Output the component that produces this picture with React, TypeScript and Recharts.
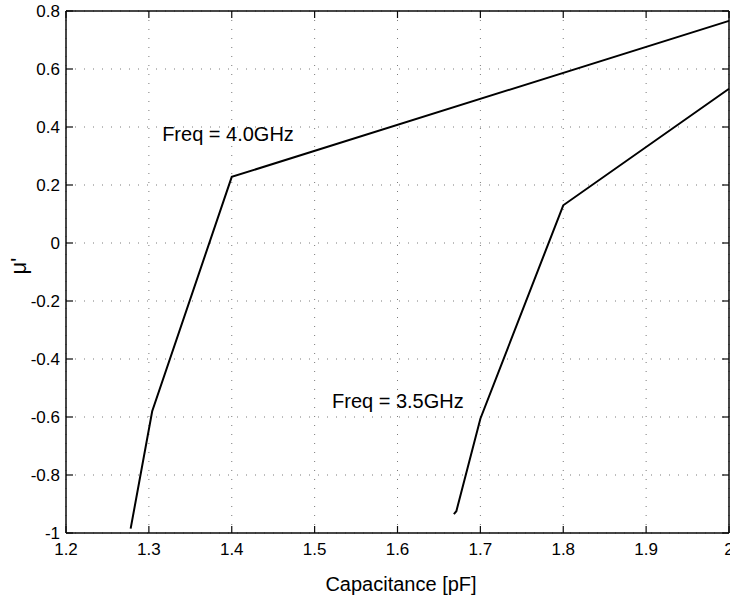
import { LineChart, Line, XAxis, YAxis, CartesianGrid, ReferenceDot, ReferenceLine } from 'recharts'

const FONT = '"Liberation Sans", Arial, Helvetica, sans-serif'
const INK = '#0a0a0a'

// capacitance [pF] vs mu'
const freq40 = [
  { x: 1.278, y: -0.985 },
  { x: 1.304, y: -0.58 },
  { x: 1.4, y: 0.228 },
  { x: 2.0, y: 0.766 },
]

const freq35 = [
  { x: 1.668, y: -0.935 },
  { x: 1.671, y: -0.925 },
  { x: 1.7, y: -0.606 },
  { x: 1.8, y: 0.13 },
  { x: 2.0, y: 0.532 },
]

const xTicks = [1.2, 1.3, 1.4, 1.5, 1.6, 1.7, 1.8, 1.9, 2.0]
const yTicks = [-1, -0.8, -0.6, -0.4, -0.2, 0, 0.2, 0.4, 0.6, 0.8]

const labels = [
  { x: 1.316, y: 0.351, text: 'Freq = 4.0GHz' },
  { x: 1.521, y: -0.57, text: 'Freq = 3.5GHz' },
]

const TICK_LEN = 7
const Y_MARGIN = 6
const X_MARGIN = 10
const FRAME_W = 1.5
const TICK_W = 1.2

function fmt(v: number): string {
  return String(Math.round(v * 10) / 10)
}

// tick label + inward tick mark on the left axis
function LeftTick(props: any) {
  const { x, y, payload } = props
  return (
    <g>
      <path d={`M${x + Y_MARGIN},${y}h${TICK_LEN}`} stroke={INK} strokeWidth={TICK_W} fill="none" />
      <text x={x} y={y} dy="0.36em" textAnchor="end" fontSize={17} fontFamily={FONT} fill="#000">
        {fmt(payload.value)}
      </text>
    </g>
  )
}

function BottomTick(props: any) {
  const { x, y, payload } = props
  return (
    <g>
      <path d={`M${x},${y - X_MARGIN}v${-TICK_LEN}`} stroke={INK} strokeWidth={TICK_W} fill="none" />
      <text x={x} y={y} dy={12} textAnchor="middle" fontSize={17} fontFamily={FONT} fill="#000">
        {fmt(payload.value)}
      </text>
    </g>
  )
}

export default function App() {
  return (
    <div style={{ position: 'absolute', left: 0, top: 0, width: 730, height: 598, background: '#fff' }}>
      <LineChart width={730} height={598} margin={{ top: 11, right: 1, bottom: 0, left: 0 }}>
        <CartesianGrid stroke="#7a7a7a" strokeDasharray="1 8" />
        <XAxis
          type="number"
          dataKey="x"
          domain={[1.2, 2]}
          ticks={xTicks}
          interval={0}
          height={65}
          tickSize={0}
          tickMargin={X_MARGIN}
          tick={BottomTick}
          axisLine={{ stroke: INK, strokeWidth: FRAME_W }}
        />
        <YAxis
          type="number"
          domain={[-1, 0.8]}
          ticks={yTicks}
          interval={0}
          width={66}
          tickSize={0}
          tickMargin={Y_MARGIN}
          tick={LeftTick}
          axisLine={{ stroke: INK, strokeWidth: FRAME_W }}
        />

        {/* top and right frame */}
        <ReferenceLine y={0.8} stroke={INK} strokeWidth={FRAME_W} />
        <ReferenceLine x={2} stroke={INK} strokeWidth={FRAME_W} />

        {/* inward ticks on the top edge */}
        {xTicks.map((t) => (
          <ReferenceLine
            key={'tx' + t}
            x={t}
            stroke="none"
            label={({ viewBox }: any) => (
              <path d={`M${viewBox.x},${viewBox.y}v${TICK_LEN}`} stroke={INK} strokeWidth={TICK_W} fill="none" />
            )}
          />
        ))}
        {/* inward ticks on the right edge */}
        {yTicks.map((t) => (
          <ReferenceLine
            key={'ty' + t}
            y={t}
            stroke="none"
            label={({ viewBox }: any) => (
              <path
                d={`M${viewBox.x + viewBox.width},${viewBox.y}h${-TICK_LEN}`}
                stroke={INK}
                strokeWidth={TICK_W}
                fill="none"
              />
            )}
          />
        ))}

        <Line data={freq40} dataKey="y" type="linear" stroke="#000" strokeWidth={2} dot={false} isAnimationActive={false} />
        <Line data={freq35} dataKey="y" type="linear" stroke="#000" strokeWidth={2} dot={false} isAnimationActive={false} />

        {labels.map((l) => (
          <ReferenceDot
            key={l.text}
            x={l.x}
            y={l.y}
            r={0}
            fill="none"
            stroke="none"
            ifOverflow="visible"
            label={({ viewBox }: any) => (
              <text x={viewBox.x} y={viewBox.y} fontSize={20} fontFamily={FONT} fill="#000">
                {l.text}
              </text>
            )}
          />
        ))}
      </LineChart>

      <div
        style={{
          position: 'absolute',
          left: 301,
          top: 574,
          width: 200,
          textAlign: 'center',
          fontFamily: FONT,
          fontSize: 20,
          lineHeight: '20px',
          color: '#000',
        }}
      >
        Capacitance [pF]
      </div>
      <div
        style={{
          position: 'absolute',
          left: -1,
          top: 254,
          width: 40,
          height: 24,
          textAlign: 'center',
          fontFamily: FONT,
          fontSize: 22,
          lineHeight: '24px',
          color: '#000',
          transform: 'rotate(-90deg)',
        }}
      >
        μ'
      </div>
    </div>
  )
}
